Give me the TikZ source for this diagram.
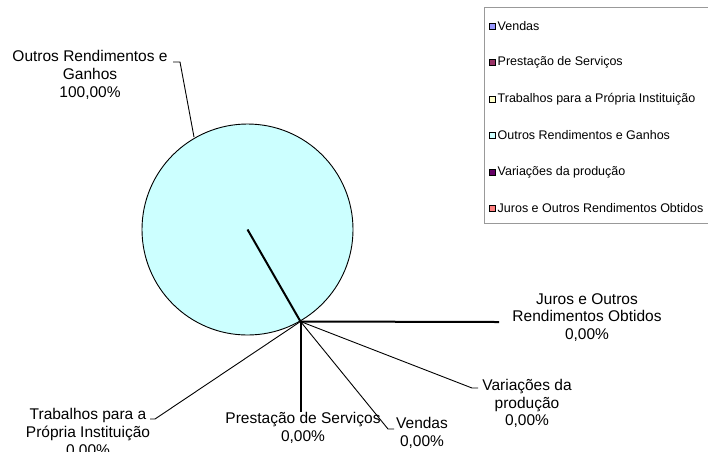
\documentclass[tikz,border=0pt]{standalone}
\usepackage{fontspec}
\setmainfont{Liberation Sans}
\definecolor{vendas}{HTML}{9999FF}
\definecolor{prestacao}{HTML}{993366}
\definecolor{trabalhos}{HTML}{FFFFCC}
\definecolor{outros}{HTML}{CCFFFF}
\definecolor{variacoes}{HTML}{660066}
\definecolor{juros}{HTML}{FF8080}
\definecolor{legframe}{HTML}{999999}
\begin{document}
\begin{tikzpicture}[x=1pt,y=-1pt,
    lbl/.style={align=center,font=\fontsize{15.5}{17.8}\selectfont,inner sep=0pt},
    legtext/.style={anchor=west,font=\fontsize{12.5}{14}\selectfont,inner sep=0pt},
    lead/.style={line width=0.9pt},
    heavy/.style={line width=2pt}]
    \useasboundingbox (0,0) rectangle (708,451);
    %% Pie
    \node[circle,draw,line width=0.9pt,fill=outros,minimum size=211pt,inner sep=0pt] (pie) at (247.5,229.5) {};
    \coordinate (P) at (300.5,321.5);
    \draw[heavy] (pie.center) -- (P);
    %% Labels
    \node[lbl] (lOutros) at (90,75) {Outros Rendimentos e\\Ganhos\\100,00\%};
    \node[lbl] (lJuros) at (587,317.5) {Juros e Outros\\Rendimentos Obtidos\\0,00\%};
    \node[lbl] (lVariacoes) at (527,403.5) {Variações da\\produção\\0,00\%};
    \node[lbl] (lVendas) at (422,432.5) {Vendas\\0,00\%};
    \node[lbl] (lPrestacao) at (303,428) {Prestação de Serviços\\0,00\%};
    \node[lbl] (lTrabalhos) at (88,433) {Trabalhos para a\\Própria Instituição\\0,00\%};
    %% Leaders
    \coordinate (eOutros) at (173,62);
    \coordinate (eJuros) at (499,322);
    \coordinate (eVariacoes) at (478,388);
    \coordinate (eVendas) at (394,429);
    \coordinate (ePrestacao) at (300.5,412);
    \coordinate (eTrabalhos) at (150,419);
    \draw[lead] (194,137) -- (180,62) -- (eOutros);
    \draw[heavy] (P) -- (eJuros);
    \draw[lead] (P) -- (472,388) -- (eVariacoes);
    \draw[lead] (P) -- (388,429) -- (eVendas);
    \draw[heavy] (P) -- (ePrestacao);
    \draw[lead] (P) -- (155,419) -- (eTrabalhos);
    %% Legend
    \draw[legframe,line width=0.9pt] (484.5,7) rectangle (720,223);
    \foreach \c/\t [count=\i] in {vendas/Vendas,prestacao/Prestação de Serviços,trabalhos/Trabalhos para a Própria Instituição,outros/Outros Rendimentos e Ganhos,variacoes/Variações da produção,juros/Juros e Outros Rendimentos Obtidos}
    {
        \draw[fill=\c,line width=0.7pt] (489,{26+36.5*(\i-1)-3}) rectangle ++(6,6);
        \node[legtext] (leg\i) at (497.5,{26+36.5*(\i-1)}) {\t};
    }
\end{tikzpicture}
\end{document}
